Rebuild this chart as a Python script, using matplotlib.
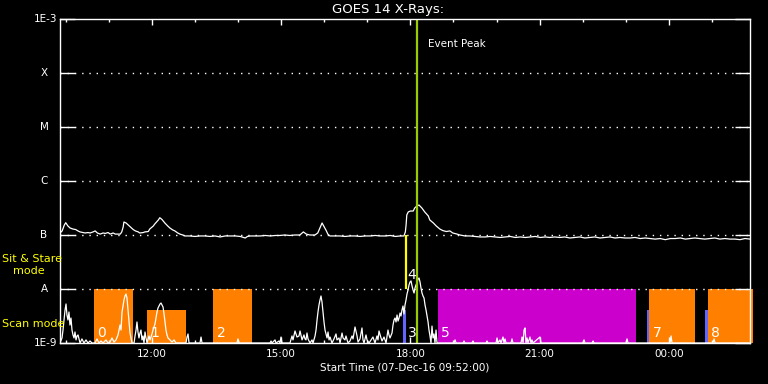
import matplotlib
matplotlib.use("Agg")
import matplotlib.pyplot as plt
import numpy as np

# ---- data (time in minutes since start 07-Dec-16 09:52:00) ----
start_label = "Start Time (07-Dec-16 09:52:00)"
title = "GOES 14 X-Rays:"

long_t = [0, 3, 6, 8, 11, 14, 18, 22, 25, 28, 35, 39, 42, 46, 49, 52, 56, 60, 63, 67, 70, 74, 77, 81, 84,
          86, 88, 89, 92, 95, 98, 102, 105, 109, 111, 116, 118, 123, 125, 130, 132, 137, 139, 142, 146, 150,
          153, 157, 160, 164, 167, 171, 174, 181, 188, 195, 202, 209, 216, 223, 230, 237, 244, 251, 258, 261,
          265, 272, 279, 286, 293, 300, 306, 313, 320, 327, 334, 339, 343, 348, 355, 359, 362, 365, 368, 371,
          373, 376, 383, 390, 397, 404, 411, 418, 425, 432, 439, 446, 453, 460, 467, 474, 479, 481, 482, 483,
          485, 488, 492, 494, 497, 500, 504, 508, 513, 515, 520, 524, 529, 533, 538, 543, 547, 553, 557, 564,
          571, 578, 585, 592, 599, 606, 613, 620, 627, 634, 641, 648, 655, 662, 669, 676, 682, 689, 696, 703,
          710, 717, 724, 731, 738, 745, 752, 759, 766, 773, 780, 787, 794, 801, 808, 815, 822, 829, 836, 843,
          850, 857, 864, 871, 877, 884, 891, 898, 905, 912, 919, 926, 933, 940, 947, 954, 961]
long_flux = [1.09e-7, 1.19e-7, 1.53e-7, 1.69e-7, 1.47e-7, 1.35e-7, 1.29e-7, 1.26e-7, 1.19e-7, 1.14e-7,
             1.09e-7, 1.11e-7, 1.09e-7, 1.14e-7, 1.19e-7, 1.09e-7, 1.04e-7, 1.09e-7, 1.07e-7, 1.11e-7,
             1.04e-7, 1.09e-7, 1.04e-7, 1.04e-7, 1.04e-7,
             1.14e-7, 1.41e-7, 1.74e-7, 1.67e-7, 1.53e-7, 1.41e-7, 1.26e-7, 1.19e-7, 1.14e-7, 1.09e-7,
             1.11e-7, 1.14e-7, 1.16e-7, 1.29e-7, 1.47e-7, 1.60e-7, 1.90e-7, 2.09e-7, 1.94e-7, 1.67e-7,
             1.47e-7, 1.35e-7, 1.24e-7, 1.19e-7, 1.09e-7, 1.04e-7, 1.00e-7, 9.6e-8, 9.6e-8, 9.4e-8, 9.6e-8,
             9.6e-8, 9.4e-8, 9.6e-8, 9.2e-8, 9.6e-8, 9.6e-8, 9.6e-8, 9.4e-8, 8.8e-8, 9.4e-8,
             9.6e-8, 9.6e-8, 9.6e-8, 9.8e-8, 9.6e-8, 9.8e-8, 9.8e-8, 1.0e-7, 9.8e-8, 1.0e-7, 1.0e-7,
             1.14e-7, 1.04e-7, 1.0e-7, 1.0e-7, 1.09e-7, 1.35e-7, 1.67e-7, 1.41e-7, 1.19e-7,
             1.04e-7, 9.6e-8, 9.6e-8, 9.6e-8, 9.4e-8, 9.6e-8, 9.6e-8, 9.4e-8, 9.6e-8, 9.6e-8, 9.8e-8,
             9.6e-8, 9.6e-8, 9.8e-8, 9.4e-8, 9.6e-8, 9.6e-8, 1.14e-7, 1.53e-7, 2.35e-7,
             2.67e-7, 2.78e-7, 2.78e-7, 3.16e-7, 3.44e-7, 3.59e-7, 3.16e-7, 2.67e-7, 2.25e-7, 1.90e-7,
             1.67e-7, 1.47e-7, 1.29e-7, 1.21e-7, 1.16e-7, 1.19e-7, 1.09e-7, 1.04e-7, 1.0e-7, 9.6e-8,
             9.6e-8, 9.4e-8, 9.2e-8, 9.2e-8, 9.4e-8, 9.2e-8, 9.0e-8, 9.2e-8, 9.4e-8, 9.0e-8, 9.2e-8,
             9.0e-8, 9.2e-8, 9.4e-8, 9.0e-8, 9.2e-8, 9.0e-8, 9.2e-8, 9.0e-8, 9.2e-8,
             8.8e-8, 9.0e-8, 9.2e-8, 8.8e-8, 9.0e-8, 9.2e-8, 8.8e-8, 9.0e-8, 9.2e-8, 8.8e-8, 9.0e-8,
             8.8e-8, 8.8e-8, 9.0e-8, 8.6e-8, 8.8e-8, 8.6e-8, 8.4e-8, 8.6e-8, 8.2e-8,
             8.6e-8, 8.6e-8, 8.8e-8, 8.4e-8, 8.6e-8, 8.8e-8, 8.6e-8, 8.4e-8, 8.6e-8, 8.8e-8, 8.4e-8,
             8.6e-8, 8.4e-8, 8.4e-8, 8.2e-8, 8.6e-8, 8.4e-8]

short_t = [0.0, 2.8, 4.2, 5.6, 7.0, 8.4, 9.7, 11.1, 12.5, 13.9, 15.3, 16.7, 18.1, 19.5, 20.9, 22.3, 23.7,
           25.1, 27.9, 30.6, 33.4, 36.2, 39.0, 41.8, 44.6, 48.7, 51.5, 54.3, 57.1, 59.9, 64.1, 66.9, 69.6,
           72.4, 75.2, 78.0, 80.8, 83.6, 85.0, 86.4, 89.1, 90.5, 91.9, 93.3, 94.7, 96.1, 97.5, 98.9, 100.3,
           103.1, 104.5, 105.9, 107.2, 108.6, 110.0, 111.4, 112.8, 114.2, 115.6, 117.0, 118.4, 119.8, 121.2,
           124.0, 125.4, 128.1, 129.5, 132.3, 133.7, 135.1, 136.5, 137.9, 139.3, 140.7, 142.1, 143.5, 144.9,
           146.2, 147.6, 149.0, 150.4, 153.2, 156.0, 158.8, 161.6, 175.5, 176.9, 178.3, 179.7, 195.0, 196.4,
           197.8, 246.5, 247.9, 249.3, 292.5, 293.9, 295.3, 299.5, 300.8, 305.0, 306.4, 307.8, 309.2, 320.3,
           323.1, 324.5, 327.3, 330.1, 332.9, 334.3, 337.1, 339.8, 341.2, 342.6, 344.0, 345.4, 348.2, 351.0,
           352.4, 355.2, 356.6, 358.0, 359.3, 360.7, 362.1, 363.5, 364.9, 366.3, 367.7, 369.1, 370.5, 371.9,
           373.3, 374.7, 376.1, 378.8, 381.6, 384.4, 385.8, 388.6, 390.0, 392.8, 394.2, 396.9, 398.3, 401.1,
           403.9, 406.7, 408.1, 410.9, 413.7, 415.1, 417.8, 420.6, 422.0, 423.4, 426.2, 427.6, 430.4, 433.2,
           435.9, 438.7, 441.5, 442.9, 444.3, 447.1, 448.5, 451.3, 454.1, 456.8, 458.2, 459.6, 462.4, 463.8,
           465.2, 466.6, 468.0, 469.4, 470.8, 472.2, 473.6, 474.9, 476.3, 477.7, 479.1, 480.5, 481.9, 483.3,
           484.7, 486.1, 487.5, 488.9, 490.3, 491.7, 493.1, 494.4, 495.8, 497.2, 498.6, 500.0, 501.4, 502.8,
           504.2, 505.6, 507.0, 508.4, 509.8, 511.2, 512.6, 513.9, 515.3, 516.7, 518.1, 519.5, 520.9, 522.3,
           523.7, 525.1, 548.8, 550.2, 551.6, 561.3, 562.7, 564.1, 573.8, 575.2, 576.6, 593.3, 594.7, 596.1,
           607.3, 608.7, 610.0, 612.8, 614.2, 617.0, 618.4, 619.8, 621.2, 628.2, 629.5, 630.9, 642.1, 643.5,
           644.9, 646.3, 647.7, 649.0, 650.4, 651.8, 654.6, 656.0, 657.4, 658.8, 668.5, 669.9, 728.4, 729.8,
           731.2, 741.0, 742.4, 743.8, 788.3, 789.7, 791.1, 849.6, 851.0, 852.4, 909.5, 910.9, 912.3, 961.0]
short_flux = [1.0e-9, 1.24e-9, 1.74e-9, 2.67e-9, 4.08e-9, 5.28e-9, 3.30e-9, 2.67e-9, 3.75e-9, 2.15e-9,
              2.90e-9, 1.74e-9, 1.41e-9, 1.24e-9, 1.60e-9, 1.14e-9, 1.35e-9, 1.41e-9, 1.0e-9, 1.19e-9,
              1.0e-9, 1.14e-9, 1.0e-9, 1.09e-9, 1.0e-9, 1.0e-9, 1.19e-9, 1.0e-9, 1.09e-9, 1.0e-9, 1.14e-9,
              1.0e-9, 1.04e-9, 1.24e-9, 1.04e-9, 1.14e-9, 1.41e-9, 2.15e-9, 1.74e-9, 3.75e-9, 6.25e-9,
              7.42e-9, 8.08e-9, 6.81e-9, 4.08e-9, 2.45e-9, 1.53e-9, 1.24e-9, 1.0e-9,
              1.0e-9, 1.35e-9, 1.74e-9, 2.45e-9, 1.60e-9, 1.24e-9, 1.53e-9, 1.74e-9, 1.14e-9, 1.35e-9,
              1.0e-9, 1.60e-9, 1.24e-9, 1.0e-9,
              1.35e-9, 1.14e-9, 1.47e-9, 1.74e-9, 2.25e-9, 2.90e-9, 3.75e-9, 4.45e-9, 4.84e-9, 5.28e-9,
              5.50e-9, 5.05e-9, 4.64e-9, 3.44e-9, 2.45e-9, 1.74e-9, 1.41e-9, 1.24e-9, 1.14e-9, 1.04e-9,
              1.14e-9, 1.0e-9, 1.0e-9, 1.29e-9, 1.47e-9, 1.0e-9, 1.0e-9, 1.29e-9,
              1.0e-9, 1.0e-9, 1.19e-9, 1.0e-9, 1.0e-9, 1.09e-9, 1.0e-9, 1.14e-9, 1.0e-9, 1.09e-9, 1.0e-9,
              1.29e-9, 1.0e-9, 1.0e-9,
              1.35e-9, 1.14e-9, 1.67e-9, 1.29e-9, 1.35e-9, 1.67e-9, 1.14e-9, 1.41e-9, 1.19e-9, 1.14e-9,
              1.53e-9, 1.19e-9, 1.0e-9, 1.14e-9,
              1.0e-9, 1.35e-9, 1.74e-9, 2.67e-9, 3.75e-9, 5.05e-9, 6.25e-9, 7.42e-9, 5.74e-9, 3.75e-9,
              2.45e-9, 1.74e-9, 1.47e-9, 1.24e-9,
              1.60e-9, 1.14e-9, 1.29e-9, 1.0e-9, 1.19e-9, 1.47e-9, 1.14e-9, 1.24e-9, 1.0e-9, 1.53e-9,
              1.24e-9, 1.14e-9, 1.35e-9, 1.0e-9,
              1.09e-9, 1.35e-9, 1.19e-9, 1.98e-9, 1.35e-9, 1.04e-9, 1.19e-9, 1.90e-9, 1.14e-9, 1.0e-9,
              1.41e-9, 1.14e-9, 1.0e-9, 1.14e-9,
              1.29e-9, 1.0e-9, 1.35e-9, 1.14e-9, 1.67e-9, 1.24e-9, 1.09e-9, 1.29e-9, 1.0e-9, 1.74e-9,
              1.41e-9, 1.24e-9, 1.53e-9, 2.15e-9,
              2.67e-9, 2.90e-9, 2.45e-9, 3.30e-9, 2.55e-9, 2.90e-9, 3.59e-9, 3.16e-9, 4.08e-9, 4.84e-9,
              3.44e-9, 5.05e-9, 6.25e-9, 8.08e-9,
              9.57e-9, 1.19e-8, 1.35e-8, 1.41e-8, 1.14e-8, 9.57e-9, 8.42e-9, 1.04e-8, 1.19e-8, 1.29e-8,
              1.53e-8, 1.60e-8, 1.35e-8, 1.04e-8,
              8.42e-9, 7.42e-9, 6.81e-9, 5.05e-9, 4.08e-9, 3.16e-9, 2.45e-9, 1.74e-9, 1.35e-9, 1.0e-9,
              2.06e-9, 1.24e-9, 1.47e-9, 1.0e-9,
              1.74e-9, 1.0e-9, 1.0e-9, 1.14e-9, 1.0e-9, 1.0e-9, 1.09e-9, 1.0e-9, 1.0e-9, 1.09e-9, 1.0e-9,
              1.0e-9, 1.09e-9, 1.0e-9,
              1.0e-9, 1.24e-9, 1.0e-9, 1.14e-9, 1.0e-9, 1.29e-9, 1.0e-9, 1.19e-9, 1.0e-9, 1.0e-9, 1.19e-9,
              1.0e-9, 1.0e-9, 1.29e-9,
              1.0e-9, 1.74e-9, 1.90e-9, 1.0e-9, 1.24e-9, 1.0e-9, 1.29e-9, 1.0e-9, 1.14e-9, 1.0e-9,
              1.29e-9, 1.0e-9, 1.0e-9, 1.14e-9,
              1.0e-9, 1.0e-9, 1.09e-9, 1.0e-9, 1.0e-9, 1.19e-9, 1.0e-9, 1.0e-9, 1.35e-9, 1.0e-9, 1.0e-9,
              1.19e-9, 1.0e-9, 1.0e-9]

# observation windows
obs_start = [47.4, 121.2, 213.1, 526.5, 820.4, 902.5]
obs_end = [101.3, 175.1, 267.0, 802.3, 884.4, 964.8]
obs_top = [1e-8, 4.1e-9, 1e-8, 1e-8, 1e-8, 1e-8]
obs_kind = ["scan", "scan", "scan", "stare", "scan", "scan"]
obs_label = ["0", "1", "2", "5", "7", "8"]
obs_label_t = [51.5, 125.5, 218.0, 530.5, 826.0, 906.0]

blue_start = [477.7, 817.6, 898.4]
blue_end = [481.9, 820.4, 902.5]
blue_top = [4.1e-9, 4.1e-9, 4.1e-9]
blue_label = ["3", "", ""]
blue_label_t = [484.0]

sitstare_t = 481.9
sitstare_lo, sitstare_hi = 1e-8, 1e-7
sitstare_label = "4"
event_peak_t = 497.0

level_vals = [1e-9, 1e-8, 1e-7, 1e-6, 1e-5, 1e-4, 1e-3]
level_labels = ["1E-9", "A", "B", "C", "M", "X", "1E-3"]

major_ticks = [128, 308, 488, 668, 848]
major_labels = ["12:00", "15:00", "18:00", "21:00", "00:00"]
minor_ticks = [8, 68, 188, 248, 368, 428, 548, 608, 728, 788, 908]

# ---- plotting ----
W, H = 768, 384
fig = plt.figure(figsize=(W / 100, H / 100), dpi=100, facecolor="black")
ax = fig.add_axes([60 / W, 1 - 343 / H, 690 / W, 324 / H], facecolor="black")
ax.set_yscale("log")
ax.set_xlim(0, 961)
ax.set_ylim(1e-9, 1e-3)

colors = {"scan": "#ff8000", "stare": "#cc00cc"}
for s, e, top, k in zip(obs_start, obs_end, obs_top, obs_kind):
    ax.bar(s, top - 1e-9, width=e - s, bottom=1e-9, align="edge", color=colors[k],
           linewidth=0, zorder=1, clip_on=False)
for s, e, top in zip(blue_start, blue_end, blue_top):
    ax.bar(s, top - 1e-9, width=e - s, bottom=1e-9, align="edge", color="#6464ff",
           linewidth=0, zorder=1.5)

# dotted level lines
for v in level_vals[1:-1]:
    ax.axhline(v, color="white", lw=1.0, linestyle=(0, (1, 4.2)), zorder=2)

ax.plot(long_t, long_flux, color="white", lw=0.9, zorder=3)
ax.plot(short_t, short_flux, color="white", lw=0.9, zorder=3)

ax.vlines(sitstare_t, sitstare_lo, sitstare_hi, color="#ffff00", lw=1.6, zorder=4)
ax.axvline(event_peak_t, color="#99cc00", lw=1.6, zorder=4)

lab_y = 1.56e-9
for t, lab in zip(obs_label_t, obs_label):
    ax.text(t, lab_y, lab, color="white", fontsize=10, ha="left", va="center", zorder=5)
ax.text(blue_label_t[0], lab_y, blue_label[0], color="white", fontsize=10, ha="left",
        va="center", zorder=5)
ax.text(sitstare_t + 2, 1.78e-8, sitstare_label, color="white", fontsize=10, ha="left",
        va="center", zorder=5)
ax.text(event_peak_t + 15, 3.4e-4, "Event Peak", color="white", fontsize=7.5, ha="left",
        va="center", zorder=5)

# spines and ticks
for sp in ax.spines.values():
    sp.set_color("white")
    sp.set_linewidth(1.0)
    sp.set_zorder(6)

ax.set_xticks(major_ticks)
ax.set_xticklabels(major_labels)
ax.set_xticks(minor_ticks, minor=True)
ax.tick_params(axis="x", which="major", direction="in", length=4.3, width=1.0, colors="white",
               top=True, bottom=True, labelsize=7.5, pad=4)
ax.tick_params(axis="x", which="minor", direction="in", length=2.2, width=1.0, colors="white",
               top=True, bottom=True)

ax.set_yticks(level_vals)
ax.set_yticklabels([])
ax.yaxis.set_minor_locator(matplotlib.ticker.NullLocator())
ax.tick_params(axis="y", which="major", direction="in", length=10.5, width=1.0, colors="white",
               left=True, right=True, labelleft=False)

ytr = ax.get_yaxis_transform()
for v, lab in zip(level_vals, level_labels):
    if lab.startswith("1E"):
        ax.text(-0.0045, v, lab, transform=ytr, color="white", fontsize=7.5, ha="right",
                va="center", clip_on=False)
    else:
        ax.text(-0.0232, v, lab, transform=ytr, color="white", fontsize=7.5, ha="center",
                va="center", clip_on=False)

fig.text(2 / W, 1 - 259 / H, "Sit & Stare", color="#ffff00", fontsize=8, ha="left", va="center")
fig.text(13 / W, 1 - 271 / H, "mode", color="#ffff00", fontsize=8, ha="left", va="center")
fig.text(2 / W, 1 - 324 / H, "Scan mode", color="#ffff00", fontsize=8, ha="left", va="center")

fig.text(388 / W, 1 - 9 / H, title, color="white", fontsize=9.5, ha="center", va="center")
fig.text(405 / W, 1 - 368 / H, start_label, color="white", fontsize=7.5, ha="center", va="center")

fig.savefig("out.png", dpi=100, facecolor="black")
